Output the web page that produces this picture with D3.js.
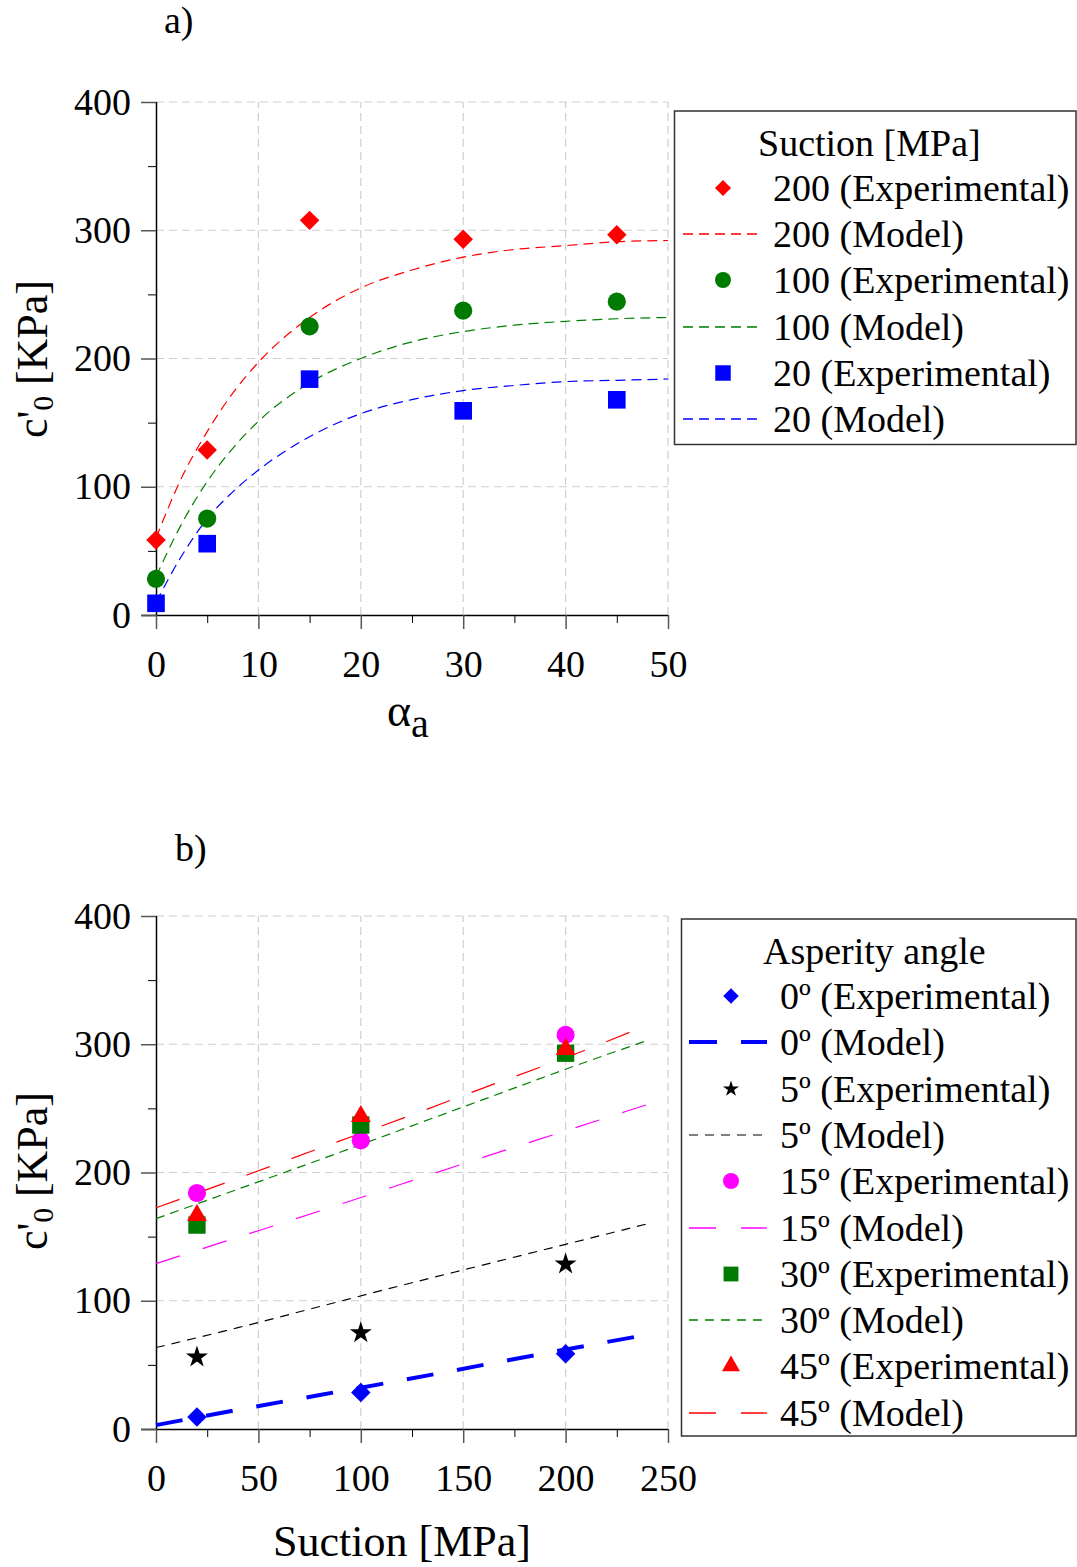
<!DOCTYPE html>
<html>
<head>
<meta charset="utf-8">
<script src="https://cdn.jsdelivr.net/npm/d3@7"></script>
<style>
  html, body { margin: 0; padding: 0; background: #fff; }
  svg { display: block; }
  text { font-family: "Liberation Serif", "Times New Roman", serif; fill: #000; }
</style>
</head>
<body>
<svg id="chart" width="1077" height="1567"></svg>
<script>
// ---- Panel a: cohesion vs asperity angle, per suction level ----
const alphaExp = [0, 5, 15, 30, 45];
const aExp200 = [58.5, 128.6, 307.7, 292.9, 296.4];
const aExp100 = [28.2, 75.2, 225, 237.3, 244.3];
const aExp20  = [9.1, 55.6, 183.9, 159.2, 167.8];

const alphaModel = [0, 2.5, 5, 7.5, 10, 15, 20, 25, 30, 35, 40, 45, 50];
const aModel200 = [60, 107, 143, 173, 197, 232, 255, 269, 279, 285, 288, 291, 292];
const aModel100 = [30, 71, 104, 130, 151, 181, 200, 213, 221, 226, 229, 231, 232];
const aModel20  = [10, 46, 75, 96, 113, 139, 157, 168, 175, 179, 182, 183, 184];

const aXTicks = [0, 10, 20, 30, 40, 50];
const yTicks = [0, 100, 200, 300, 400];

// ---- Panel b: cohesion vs suction, per asperity angle ----
const suctionExp = [20, 100, 200];
const bExp0  = [9.4, 28.4, 58.7];
const bExp5  = [56, 75, 128.6];
const bExp15 = [184, 225, 307.3];
const bExp30 = [159, 237, 293];
const bExp45 = [166.6, 243.8, 296];

const suctionModel = [0, 40, 80, 120, 160, 200, 240];
const bModel0  = [3, 15, 26.5, 38, 50, 62, 73.5];
const bModel5  = [63.5, 79, 95.5, 112, 128, 144, 160];
const bModel15 = [129, 149.5, 170, 191, 212, 232.5, 253];
const bModel30 = [164, 187, 210, 233.5, 257, 280.5, 303];
const bModel45 = [172.5, 195.5, 219, 242, 266, 289.5, 315];

const bXTicks = [0, 50, 100, 150, 200, 250];

const svg = d3.select("#chart");

function zip(xs, ys) { return xs.map((x, i) => [x, ys[i]]); }

function symbolPath(shape, size) {
  if (shape === "diamond") return d3.symbol(d3.symbolSquare, size)();
  const map = { circle: d3.symbolCircle, square: d3.symbolSquare, star: d3.symbolStar, triangle: d3.symbolTriangle };
  return d3.symbol(map[shape], size)();
}
function markerTransform(shape, x, y) {
  return shape === "diamond" ? `translate(${x},${y}) rotate(45)` : `translate(${x},${y})`;
}

function drawPanel(cfg) {
  const g = svg.append("g");
  const x = d3.scaleLinear().domain(cfg.xDomain).range([156, 668]);
  const y = d3.scaleLinear().domain([0, 400]).range([cfg.y0, cfg.y0 - 513]);

  // grid
  const grid = g.append("g").attr("stroke", "#cfcfcf").attr("stroke-width", 1.2).attr("stroke-dasharray", "8,5");
  grid.selectAll("line.h").data(yTicks.filter(d => d > 0)).join("line")
    .attr("x1", x(cfg.xDomain[0])).attr("x2", x(cfg.xDomain[1]))
    .attr("y1", d => y(d)).attr("y2", d => y(d));
  grid.selectAll("line.v").data(cfg.xTicks.filter(d => d > 0)).join("line")
    .attr("x1", d => x(d)).attr("x2", d => x(d))
    .attr("y1", y(0)).attr("y2", y(400));

  // axes
  const xAxis = d3.axisBottom(x).tickValues(cfg.xTicks).tickSize(14).tickPadding(8).tickFormat(d3.format("d"));
  const xMinor = d3.axisBottom(x).tickValues(cfg.xMinor).tickSize(8).tickFormat("");
  const yAxis = d3.axisLeft(y).tickValues(yTicks).tickSize(15).tickPadding(10).tickFormat(d3.format("d"));
  const yMinor = d3.axisLeft(y).tickValues([50, 150, 250, 350]).tickSize(8).tickFormat("");

  const gx = g.append("g").attr("transform", `translate(0,${y(0)})`).call(xAxis);
  g.append("g").attr("transform", `translate(0,${y(0)})`).call(xMinor).select(".domain").remove();
  const gy = g.append("g").attr("transform", `translate(156,0)`).call(yAxis);
  g.append("g").attr("transform", `translate(156,0)`).call(yMinor).select(".domain").remove();

  [gx, gy].forEach(a => {
    a.select(".domain").attr("stroke", "#000").attr("stroke-width", 1.5);
    a.selectAll(".tick line").attr("stroke", "#555").attr("stroke-width", 1.5);
    a.selectAll(".tick text").attr("font-size", 38).attr("font-family", "Liberation Serif, serif").attr("fill", "#000");
  });
  gx.select(".domain").attr("d", `M141,0.5H${x(cfg.xDomain[1])}`);
  gy.select(".domain").attr("d", `M0.5,${y(0)}V${y(400)}`);
  gx.selectAll(".tick text").attr("dy", "1.05em");
  svg.selectAll(".domain").attr("fill", "none");

  // model curves
  const line = d3.line().x(d => x(d[0])).y(d => y(d[1])).curve(d3.curveMonotoneX);
  cfg.models.forEach(m => {
    g.append("path").datum(zip(m.xs, m.ys))
      .attr("d", line).attr("fill", "none")
      .attr("stroke", m.color).attr("stroke-width", m.width).attr("stroke-dasharray", m.dash);
  });

  // experimental points
  cfg.points.forEach(p => {
    g.append("g").selectAll("path").data(zip(p.xs, p.ys)).join("path")
      .attr("d", symbolPath(p.shape, p.size))
      .attr("transform", d => markerTransform(p.shape, x(d[0]), y(d[1])))
      .attr("fill", p.color);
  });

  // legend
  const L = cfg.legend;
  g.append("rect").attr("x", L.x0).attr("y", L.y0).attr("width", 1076 - L.x0).attr("height", L.y1 - L.y0)
    .attr("fill", "#fff").attr("stroke", "#333").attr("stroke-width", 1.5);
  g.append("text").attr("x", L.titleX).attr("y", L.titleY).attr("font-size", 38).text(L.title);
  L.items.forEach((it, i) => {
    const cy = Math.round(L.firstY + i * L.step);
    if (it.kind === "point") {
      g.append("path").attr("d", symbolPath(it.shape, it.size))
        .attr("transform", markerTransform(it.shape, L.markX, cy)).attr("fill", it.color);
    } else {
      g.append("line").attr("x1", L.lineX1).attr("x2", L.lineX2).attr("y1", cy).attr("y2", cy)
        .attr("stroke", it.color).attr("stroke-width", it.width).attr("stroke-dasharray", it.dash);
    }
    g.append("text").attr("x", L.textX).attr("y", cy).attr("dy", "0.33em").attr("font-size", 38).text(it.label);
  });

  // y-axis title
  const yt = svg.append("text").attr("font-size", 44).attr("text-anchor", "middle")
    .attr("transform", `translate(47,${cfg.yTitleY}) rotate(-90)`);
  yt.append("tspan").text("c'");
  yt.append("tspan").attr("font-size", 29).attr("dy", 6).text("0");
  yt.append("tspan").attr("dy", -6).text(" [KPa]");

  // panel label
  svg.append("text").attr("x", cfg.panelX).attr("y", cfg.panelY).attr("font-size", 38).text(cfg.panel);
  return { x, y };
}

// Panel a
drawPanel({
  xDomain: [0, 50], xTicks: aXTicks, xMinor: [5, 15, 25, 35, 45], y0: 615,
  panel: "a)", panelX: 164, panelY: 33, yTitleY: 359,
  models: [
    { xs: alphaModel, ys: aModel200, color: "#ff0000", width: 1.2, dash: "10,6" },
    { xs: alphaModel, ys: aModel100, color: "#008000", width: 1.2, dash: "10,6" },
    { xs: alphaModel, ys: aModel20,  color: "#0000ff", width: 1.2, dash: "10,6" }
  ],
  points: [
    { xs: alphaExp, ys: aExp200, shape: "diamond", size: 190, color: "#ff0000" },
    { xs: alphaExp, ys: aExp100, shape: "circle", size: 260, color: "#007a00" },
    { xs: alphaExp, ys: aExp20,  shape: "square", size: 310, color: "#0000ff" }
  ],
  legend: {
    x0: 674.5, y0: 111, y1: 444.5, title: "Suction [MPa]", titleX: 758, titleY: 156,
    firstY: 188, step: 46.2, markX: 723, lineX1: 683, lineX2: 760, textX: 773,
    items: [
      { kind: "point", shape: "diamond", size: 130, color: "#ff0000", label: "200 (Experimental)" },
      { kind: "line", color: "#ff0000", width: 1.3, dash: "10,6", label: "200 (Model)" },
      { kind: "point", shape: "circle", size: 200, color: "#007a00", label: "100 (Experimental)" },
      { kind: "line", color: "#008000", width: 1.3, dash: "10,6", label: "100 (Model)" },
      { kind: "point", shape: "square", size: 240, color: "#0000ff", label: "20 (Experimental)" },
      { kind: "line", color: "#0000ff", width: 1.3, dash: "10,6", label: "20 (Model)" }
    ]
  }
});

// x title for panel a: alpha with subscript a
const at = svg.append("text").attr("x", 387).attr("y", 726).attr("font-size", 46);
at.append("tspan").text("α");
at.append("tspan").attr("font-size", 40).attr("dy", 11).text("a");

// Panel b
drawPanel({
  xDomain: [0, 250], xTicks: bXTicks, xMinor: [25, 75, 125, 175, 225], y0: 1429,
  panel: "b)", panelX: 175, panelY: 861, yTitleY: 1171,
  models: [
    { xs: suctionModel, ys: bModel0,  color: "#0000ff", width: 4, dash: "27,24" },
    { xs: suctionModel, ys: bModel5,  color: "#000000", width: 1.2, dash: "9,7" },
    { xs: suctionModel, ys: bModel15, color: "#ff00ff", width: 1.2, dash: "25,24" },
    { xs: suctionModel, ys: bModel30, color: "#008000", width: 1.2, dash: "9,6" },
    { xs: suctionModel, ys: bModel45, color: "#ff0000", width: 1.2, dash: "25,23" }
  ],
  points: [
    { xs: suctionExp, ys: bExp0,  shape: "diamond", size: 190, color: "#0000ff" },
    { xs: suctionExp, ys: bExp5,  shape: "star", size: 150, color: "#000000" },
    { xs: suctionExp, ys: bExp15, shape: "circle", size: 260, color: "#ff00ff" },
    { xs: suctionExp, ys: bExp30, shape: "square", size: 300, color: "#007a00" },
    { xs: suctionExp, ys: bExp45, shape: "triangle", size: 170, color: "#ff0000" }
  ],
  legend: {
    x0: 681.5, y0: 919, y1: 1436, title: "Asperity angle", titleX: 763, titleY: 964,
    firstY: 996, step: 46.3, markX: 731, lineX1: 689, lineX2: 767, textX: 780,
    items: [
      { kind: "point", shape: "diamond", size: 120, color: "#0000ff", label: "0º (Experimental)" },
      { kind: "line", color: "#0000ff", width: 4, dash: "28,24", label: "0º (Model)" },
      { kind: "point", shape: "star", size: 80, color: "#000000", label: "5º (Experimental)" },
      { kind: "line", color: "#000000", width: 1.2, dash: "9,7", label: "5º (Model)" },
      { kind: "point", shape: "circle", size: 200, color: "#ff00ff", label: "15º (Experimental)" },
      { kind: "line", color: "#ff00ff", width: 1.3, dash: "27,25", label: "15º (Model)" },
      { kind: "point", shape: "square", size: 220, color: "#007a00", label: "30º (Experimental)" },
      { kind: "line", color: "#008000", width: 1.3, dash: "9,7", label: "30º (Model)" },
      { kind: "point", shape: "triangle", size: 140, color: "#ff0000", label: "45º (Experimental)" },
      { kind: "line", color: "#ff0000", width: 1.3, dash: "27,25", label: "45º (Model)" }
    ]
  }
});

// x title for panel b
svg.append("text").attr("x", 402).attr("y", 1556).attr("font-size", 44).attr("text-anchor", "middle").text("Suction [MPa]");
</script>
</body>
</html>
